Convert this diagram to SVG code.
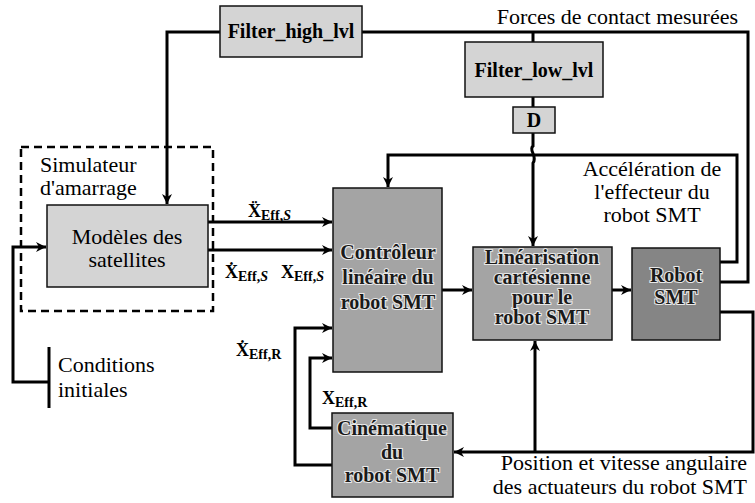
<svg xmlns="http://www.w3.org/2000/svg" width="755" height="503" viewBox="0 0 755 503" font-family="'Liberation Serif', Tinos, 'Times New Roman', serif">
<style>
.bx{stroke:#111;stroke-width:1.5}
.l1{fill:#d4d4d4}
.l2{fill:#a4a4a4}
.l3{fill:#858585}
.ln{fill:none;stroke:#000;stroke-width:3;stroke-linejoin:miter}
text{font-family:'Liberation Serif', Tinos, 'Times New Roman', serif}
.t{font-size:22px;fill:#000}
.b{font-size:20px;font-weight:bold;fill:#000}
.e{font-size:20px;font-weight:bold;fill:#1a1a1a;stroke:#e8e8e8;stroke-width:2.2;paint-order:stroke}
.m{font-weight:bold;fill:#000;font-size:18px}
.s{font-size:14px}
</style>
<defs>
<marker id="ah" viewBox="0 0 10 10" refX="10" refY="5" markerWidth="11" markerHeight="10" markerUnits="userSpaceOnUse" orient="auto">
<path d="M0 0 L10 5 L0 10 L3 5 Z" fill="#000"/>
</marker>
</defs>

<g id="connectors">
<path class="ln" d="M220 32 H167 V204" marker-end="url(#ah)"/>
<path class="ln" d="M362 32 H748 V282 H720"/>
<path class="ln" d="M533 32 V42"/>
<path class="ln" d="M533 97 V107"/>
<path class="ln" d="M533 133 V146 C528 150 538 156 533 163 V246" marker-end="url(#ah)"/>
<path class="ln" d="M720 262 H737 V155 H388 V187" marker-end="url(#ah)"/>
<path class="ln" d="M208 222 H332" marker-end="url(#ah)"/>
<path class="ln" d="M208 250 H332" marker-end="url(#ah)"/>
<path class="ln" d="M442 290 H472" marker-end="url(#ah)"/>
<path class="ln" d="M612 290 H631" marker-end="url(#ah)"/>
<path class="ln" d="M720 312 H753 V452 H454" marker-end="url(#ah)"/>
<path class="ln" d="M535 452 V341" marker-end="url(#ah)"/>
<path class="ln" d="M332 428 H310 V358 H332" marker-end="url(#ah)"/>
<path class="ln" d="M332 465 H295 V328 H332" marker-end="url(#ah)"/>
<path class="ln" d="M49 382 H13 V247 H46" marker-end="url(#ah)"/>
<path class="ln" d="M49 347 V408"/>
</g>

<g id="simulateur">
<rect x="21" y="147" width="192" height="164" fill="none" stroke="#000" stroke-width="2.5" stroke-dasharray="8 5"/>
<text class="t" x="40" y="172">Simulateur</text>
<text class="t" x="40" y="195">d'amarrage</text>
</g>

<g id="filter_high">
<rect class="bx l1" x="220" y="6" width="142" height="51"/>
<text class="b" x="291" y="38" text-anchor="middle">Filter_high_lvl</text>
</g>

<g id="filter_low">
<rect class="bx l1" x="465" y="42" width="138" height="55"/>
<text class="b" x="534" y="77" text-anchor="middle">Filter_low_lvl</text>
</g>

<g id="d">
<rect class="bx l1" x="513" y="107" width="42" height="26"/>
<text class="b" x="534" y="127" text-anchor="middle">D</text>
</g>

<g id="modeles">
<rect class="bx l1" x="47" y="205" width="161" height="82"/>
<text class="t" x="127" y="244" text-anchor="middle">Modèles des</text>
<text class="t" x="127" y="267" text-anchor="middle">satellites</text>
</g>

<g id="controleur">
<rect class="bx l2" x="333" y="188" width="109" height="184"/>
<text class="e" x="388" y="259" text-anchor="middle">Contrôleur</text>
<text class="e" x="388" y="284" text-anchor="middle">linéaire du</text>
<text class="e" x="388" y="309" text-anchor="middle">robot SMT</text>
</g>

<g id="linearisation">
<rect class="bx l2" x="473" y="247" width="139" height="93"/>
<text class="e" x="542" y="264" text-anchor="middle" font-size="17.5">Linéarisation</text>
<text class="e" x="542" y="284" text-anchor="middle" font-size="17.5">cartésienne</text>
<text class="e" x="542" y="304" text-anchor="middle" font-size="17.5">pour le</text>
<text class="e" x="542" y="324" text-anchor="middle" font-size="17.5">robot SMT</text>
</g>

<g id="robot">
<rect class="bx l3" x="632" y="248" width="88" height="92"/>
<text class="e" x="676" y="282" text-anchor="middle">Robot</text>
<text class="e" x="676" y="304" text-anchor="middle">SMT</text>
</g>

<g id="cinematique">
<rect class="bx l2" x="332" y="413" width="121" height="84"/>
<text class="e" x="392" y="435" text-anchor="middle">Cinématique</text>
<text class="e" x="392" y="459" text-anchor="middle">du</text>
<text class="e" x="392" y="482" text-anchor="middle">robot SMT</text>
</g>

<g id="labels">
<text class="t" x="738" y="24" text-anchor="end">Forces de contact mesurées</text>
<text class="t" x="652" y="176" text-anchor="middle" font-size="18">Accélération de</text>
<text class="t" x="652" y="199" text-anchor="middle" font-size="18">l'effecteur du</text>
<text class="t" x="652" y="222" text-anchor="middle" font-size="18">robot SMT</text>
<text class="t" x="747" y="470" text-anchor="end" font-size="20.5">Position et vitesse angulaire</text>
<text class="t" x="747" y="494" text-anchor="end" font-size="20.5">des actuateurs du robot SMT</text>
<text class="t" x="58" y="372">Conditions</text>
<text class="t" x="58" y="397">initiales</text>
<text class="m" x="248" y="217">Ẍ<tspan class="s" dy="3">Eff,<tspan font-style="italic">S</tspan></tspan></text>
<text class="m" x="225" y="278">Ẋ<tspan class="s" dy="3">Eff,<tspan font-style="italic">S</tspan></tspan></text>
<text class="m" x="281" y="278">X<tspan class="s" dy="3">Eff,<tspan font-style="italic">S</tspan></tspan></text>
<text class="m" x="236" y="356">Ẋ<tspan class="s" dy="3">Eff,R</tspan></text>
<text class="m" x="322" y="404">X<tspan class="s" dy="3">Eff,R</tspan></text>
</g>
</svg>
